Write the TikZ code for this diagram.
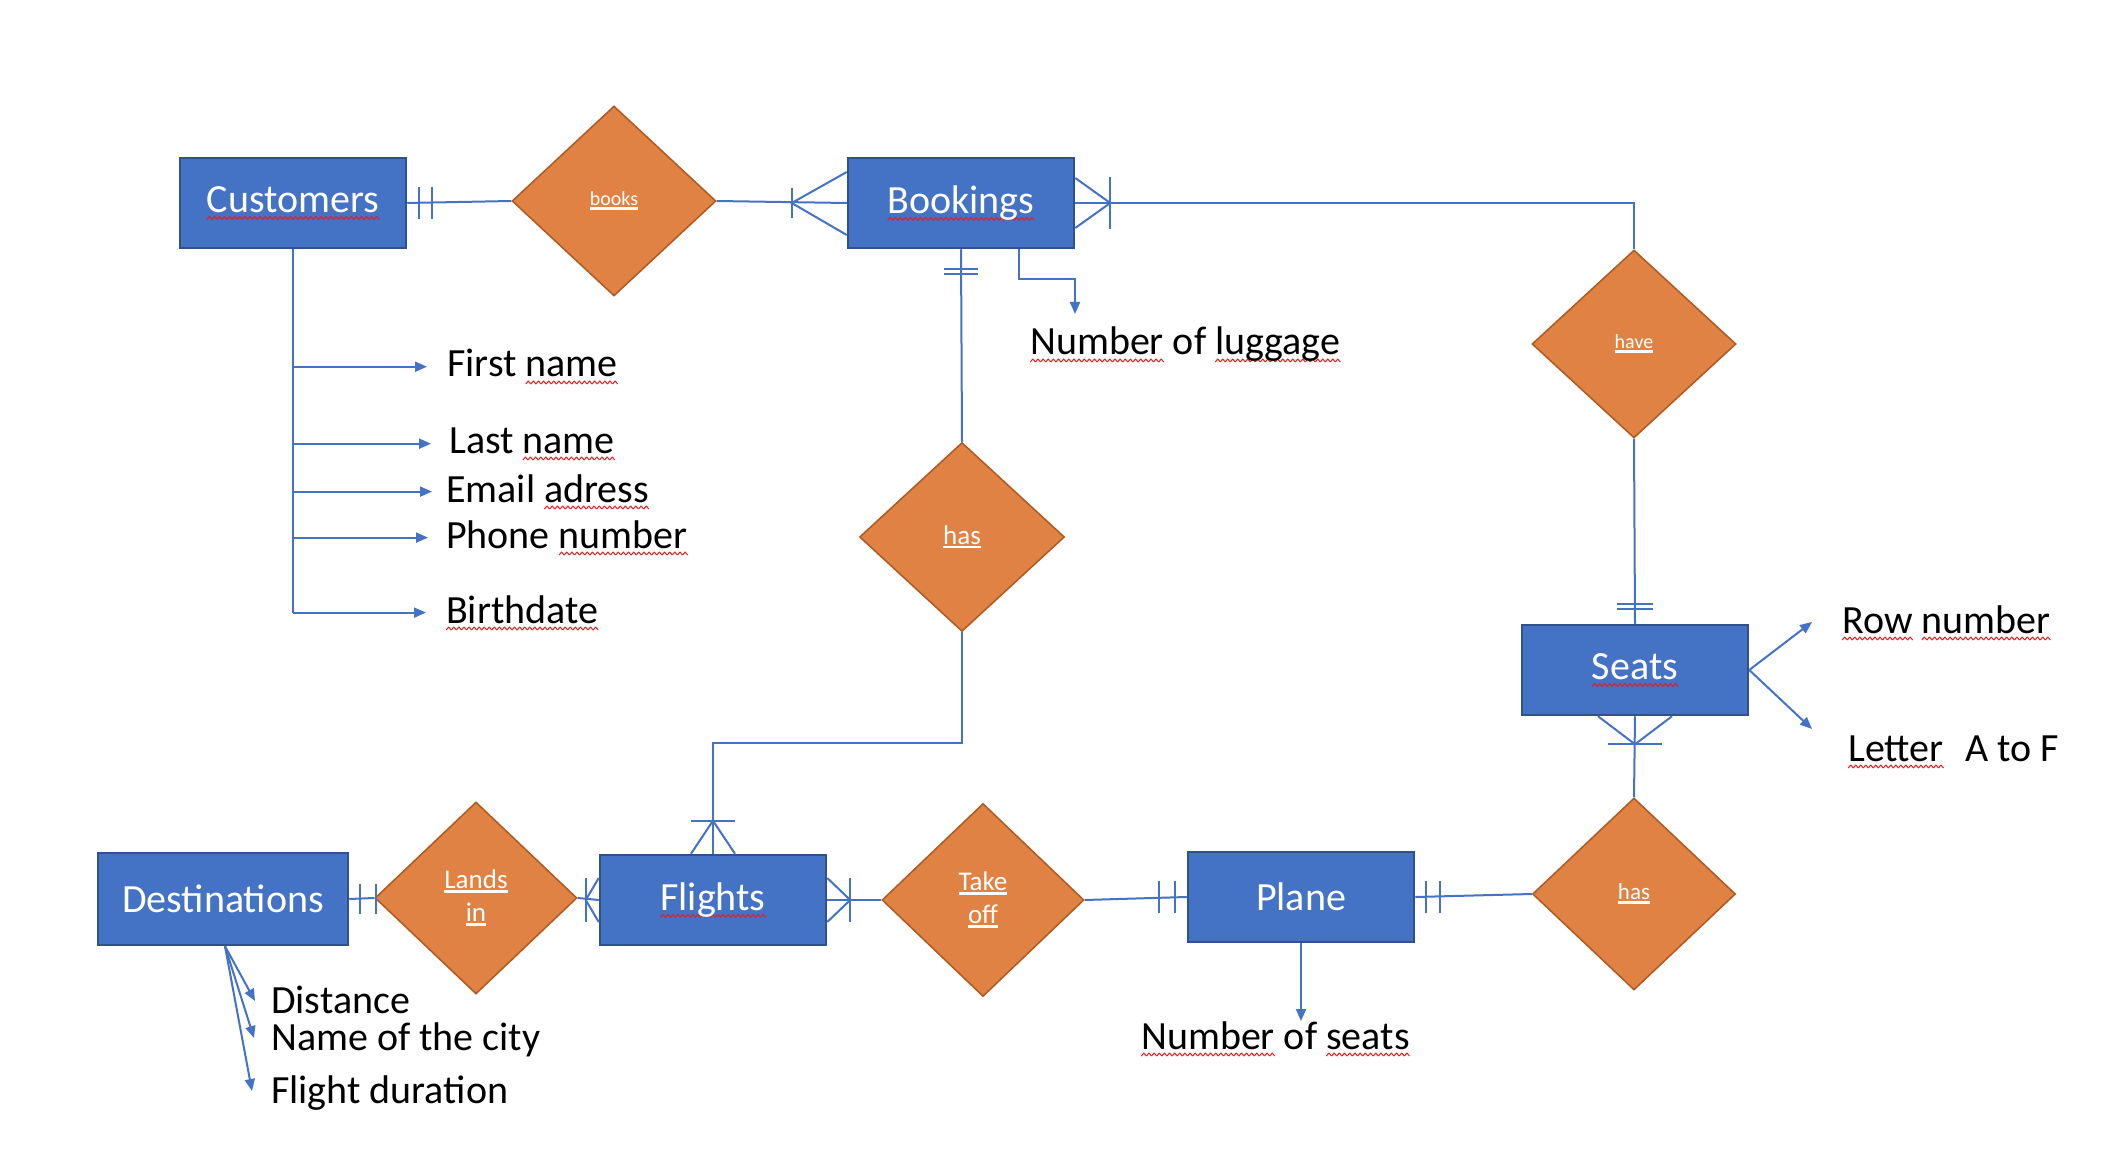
\documentclass[tikz,border=0pt]{standalone}
\usepackage{fontspec}
\setmainfont{Carlito}
\usetikzlibrary{shapes.geometric,arrows.meta}
\definecolor{eblue}{RGB}{68,114,196}
\definecolor{eborder}{RGB}{47,82,143}
\definecolor{rorange}{RGB}{223,130,68}
\definecolor{rborder}{RGB}{174,90,33}
\definecolor{sqred}{RGB}{230,30,30}
\newsavebox\wavebox
\newcommand\sq[1]{\setbox0\hbox{#1}\rlap{\lower7pt\hbox to\wd0{\xleaders\copy\wavebox\hfill}}\box0\relax}
\newcommand\ul[1]{\setbox0\hbox{#1}\rlap{\rule[-4pt]{\wd0}{2.5pt}}\box0\relax}
\begin{document}
\sbox\wavebox{\begin{pgfpicture}\pgfinterruptboundingbox\pgfsetlinewidth{1pt}\pgfsetstrokecolor{sqred}\pgfsetroundjoin\pgfpathmoveto{\pgfpoint{0pt}{0pt}}\pgfpathlineto{\pgfpoint{2.5pt}{3pt}}\pgfpathlineto{\pgfpoint{5pt}{0pt}}\pgfusepath{stroke}\endpgfinterruptboundingbox\pgfpathrectangle{\pgfpoint{0pt}{0pt}}{\pgfpoint{5pt}{0pt}}\pgfusepath{use as bounding box}\end{pgfpicture}}%
\begin{tikzpicture}[x=1pt,y=-1pt,
 ent/.style={draw=eborder,line width=2.5pt,fill=eblue,text=white,minimum width=226pt,minimum height=90pt,inner sep=0pt,font=\fontsize{40}{48}\selectfont},
 rel/.style={diamond,draw=rborder,line width=1.5pt,fill=rorange,text=white,inner sep=0pt,align=center},
 attr/.style={inner sep=0pt,anchor=base west,font=\fontsize{40}{48}\selectfont},
 conn/.style={draw=eblue,line width=2pt},
 arr/.style={conn,-{Triangle[length=12pt,width=10pt]}}]
\useasboundingbox[fill=white] (0,0) rectangle (2121,1174);

% entities
\node[ent] (cust) at (293,203) {\sq{Customers}};
\node[ent] (book) at (961,203) {\sq{Bookings}};
\node[ent] (seats) at (1635,670) {\sq{Seats}};
\node[ent,minimum width=250pt,minimum height=92pt] (dest) at (223,899) {Destinations};
\node[ent] (fl) at (713,900) {\sq{Flights}};
\node[ent] (plane) at (1301,897) {Plane};

% relationships
\node[rel,minimum width=204pt,minimum height=190pt,font=\fontsize{20}{24}\selectfont] (books) at (614,201) {\ul{books}};
\node[rel,minimum width=204pt,minimum height=188pt,font=\fontsize{20}{24}\selectfont] (have) at (1634,344) {\ul{have}};
\node[rel,minimum width=205pt,minimum height=189pt,font=\fontsize{27}{33}\selectfont] (hasm) at (962,537) {\ul{has}};
\node[rel,minimum width=202pt,minimum height=192pt,font=\fontsize{27}{33}\selectfont] (lands) at (476,898) {\ul{Lands}\\\ul{in}};
\node[rel,minimum width=202pt,minimum height=193pt,font=\fontsize{27}{33}\selectfont] (take) at (983,900) {\ul{Take}\\\ul{off}};
\node[rel,minimum width=203pt,minimum height=192pt,font=\fontsize{23}{28}\selectfont] (hasr) at (1634,894) {\ul{has}};

% attributes
\node[attr] (fn) at (447,377) {First \sq{name}};
\node[attr] (ln) at (449,453) {Last \sq{name}};
\node[attr] (em) at (446,502) {Email \sq{adress}};
\node[attr] (ph) at (446,548) {Phone \sq{number}};
\node[attr] (bd) at (446,623) {\sq{Birthdate}};
\node[attr] (lug) at (1030,355) {\sq{Number} of \sq{luggage}};
\node[attr] (row) at (1842,633) {\sq{Row} \sq{number}};
\node[attr] (let) at (1848,761) {\sq{Letter}\hspace{22pt}A to F};
\node[attr] (nos) at (1141,1049) {\sq{Number} of \sq{seats}};
\node[attr] (dist) at (271,1013) {Distance};
\node[attr] (city) at (271,1050) {Name of the city};
\node[attr] (fdur) at (271,1103) {Flight duration};

% Customers - books
\draw[conn] (cust.east) -- (books.west);
\draw[conn] ([shift={(12,-16)}]cust.east) -- ([shift={(12,16)}]cust.east);
\draw[conn] ([shift={(25,-16)}]cust.east) -- ([shift={(25,16)}]cust.east);

% books - Bookings
\draw[conn] (books.east) -- (book.west);
\draw[conn] ([shift={(0,-31)}]book.west) -- ([shift={(-55,0)}]book.west) -- ([shift={(0,32)}]book.west);
\draw[conn] ([shift={(-55,-15)}]book.west) -- ([shift={(-55,15)}]book.west);

% Bookings - have
\draw[conn] (book.east) -| (have.north);
\draw[conn] ([shift={(0,-25)}]book.east) -- ([shift={(35,0)}]book.east) -- ([shift={(0,25)}]book.east);
\draw[conn] ([shift={(35,-26)}]book.east) -- ([shift={(35,26)}]book.east);

% Bookings - has
\draw[conn] (book.south) -- (hasm.north);
\draw[conn] ([shift={(-17,20)}]book.south) -- ([shift={(17,20)}]book.south);
\draw[conn] ([shift={(-17,25)}]book.south) -- ([shift={(17,25)}]book.south);

% luggage
\draw[arr] ([xshift=58pt]book.south) |- ([shift={(45,-76)}]lug.base west) -- ([shift={(45,-41)}]lug.base west);

% have - Seats
\draw[conn] (have.south) -- (seats.north);
\draw[conn] ([shift={(-18,-20)}]seats.north) -- ([shift={(18,-20)}]seats.north);
\draw[conn] ([shift={(-18,-15)}]seats.north) -- ([shift={(18,-15)}]seats.north);

% Seats - has
\draw[conn] (seats.south) -- (hasr.north);
\draw[conn] ([shift={(-37,0)}]seats.south) -- ([shift={(0,28)}]seats.south) -- ([shift={(37,0)}]seats.south);
\draw[conn] ([shift={(-27,28)}]seats.south) -- ([shift={(27,28)}]seats.south);

% has - Plane
\draw[conn] (hasr.west) -- (plane.east);
\draw[conn] ([shift={(11,-16)}]plane.east) -- ([shift={(11,16)}]plane.east);
\draw[conn] ([shift={(25,-16)}]plane.east) -- ([shift={(25,16)}]plane.east);

% Take off - Plane
\draw[conn] (take.east) -- (plane.west);
\draw[conn] ([shift={(-28,-16)}]plane.west) -- ([shift={(-28,16)}]plane.west);
\draw[conn] ([shift={(-12,-16)}]plane.west) -- ([shift={(-12,16)}]plane.west);

% Flights - Take off
\draw[conn] (fl.east) -- (take.west);
\draw[conn] ([shift={(0,-22)}]fl.east) -- ([shift={(23,0)}]fl.east) -- ([shift={(0,22)}]fl.east);
\draw[conn] ([shift={(23,-22)}]fl.east) -- ([shift={(23,22)}]fl.east);

% Lands in - Flights
\draw[conn] (lands.east) -- (fl.west);
\draw[conn] ([shift={(0,-22)}]fl.west) -- ([shift={(-13,0)}]fl.west) -- ([shift={(0,22)}]fl.west);
\draw[conn] ([shift={(-13,-22)}]fl.west) -- ([shift={(-13,22)}]fl.west);

% Destinations - Lands in
\draw[conn] (dest.east) -- (lands.west);
\draw[conn] ([shift={(11,-15)}]dest.east) -- ([shift={(11,15)}]dest.east);
\draw[conn] ([shift={(27,-15)}]dest.east) -- ([shift={(27,15)}]dest.east);

% has - Flights
\draw[conn] (hasm.south) -- ++(0,111) -| (fl.north);
\draw[conn] ([shift={(-22,0)}]fl.north) -- ([shift={(0,-33)}]fl.north) -- ([shift={(22,0)}]fl.north);
\draw[conn] ([shift={(-22,-33)}]fl.north) -- ([shift={(22,-33)}]fl.north);

% Customers attributes
\draw[conn] (cust.south) -- (cust.south |- bd.west);
\foreach \n/\g in {fn/20,ln/18,em/14,ph/18,bd/20}
  \draw[arr] (cust.south |- \n.west) -- ([xshift=-\g pt]\n.west);

% Destinations attributes
\draw[arr] ([xshift=2pt]dest.south) -- ([shift={(-16,-12)}]dist.base west);
\draw[arr] ([xshift=2pt]dest.south) -- ([shift={(-17,-12)}]city.base west);
\draw[arr] ([xshift=2pt]dest.south) -- ([shift={(-19,-12)}]fdur.base west);

% Seats attributes
\draw[arr] (seats.east) -- ([shift={(-30,-11)}]row.base west);
\draw[arr] (seats.east) -- ([shift={(-36,-32)}]let.base west);

% Plane attribute
\draw[arr] (plane.south) -- (plane.south |- nos.north);
\end{tikzpicture}
\end{document}
